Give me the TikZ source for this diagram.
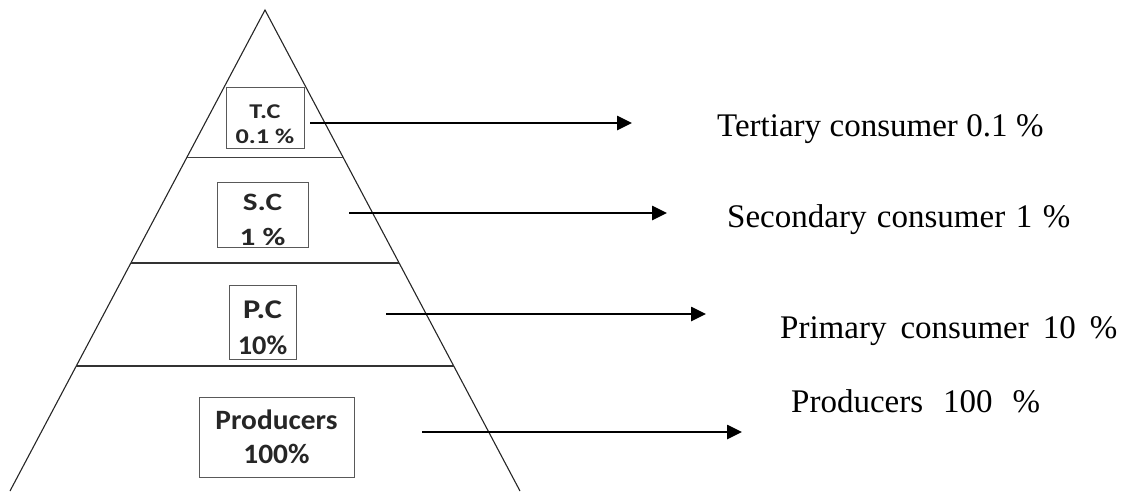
\documentclass[tikz,border=0pt]{standalone}
\usepackage{graphicx}
\usepackage{fontspec}
\setmainfont{Liberation Serif}
\newfontfamily\calibri{Carlito}
\usepackage{tikz}
\usetikzlibrary{calc,arrows.meta}
\tikzset{>={Triangle[length=15pt,width=14pt]}}
\tikzset{
  levelbox/.style={draw=black!65, line width=1pt, fill=white, align=center, inner sep=0pt, text=black!85},
  flow/.style={->, line width=2.6pt},
  levelname/.style={anchor=base west, inner sep=0pt, font=\fontsize{33}{40}\selectfont, execute at begin node={\spaceskip=#1\relax}},
}
% wider box lettering, pushed down a little
\newcommand{\wide}[2]{\scalebox{#1}[1]{#2}}
\newcommand{\drop}[1]{\rule{0pt}{#1}}

\begin{document}
\begin{tikzpicture}[x=1pt,y=-1pt]
\useasboundingbox (0,0) rectangle (1125,491);

% pyramid
\coordinate (top) at (265,10);
\coordinate (left) at (10,491);
\coordinate (right) at (520,491);
\draw[line width=1.1pt, black!85] (left) -- (top) -- (right);

\coordinate (l1) at ($(top)!0.306!(left)$);
\coordinate (r1) at ($(top)!0.306!(right)$);
\coordinate (l2) at ($(top)!0.526!(left)$);
\coordinate (r2) at ($(top)!0.526!(right)$);
\coordinate (l3) at ($(top)!0.74!(left)$);
\coordinate (r3) at ($(top)!0.74!(right)$);
\draw[line width=1.2pt, black!75] (l1) -- (r1);
\draw[line width=1.3pt, black!80] (l2) -- (r2);
\draw[line width=1.3pt, black!80] (l3) -- (r3);

% boxes
\node[levelbox, minimum width=78, minimum height=61, font=\calibri\bfseries\fontsize{21}{25}\selectfont] (tc) at (265,117.5)
  {\drop{27pt}\wide{1.25}{T.C}\\\wide{1.25}{0.1 \%}};
\node[levelbox, minimum width=91, minimum height=65, font=\calibri\bfseries\fontsize{25}{35}\selectfont] (sc) at (262.5,214.5)
  {\drop{27pt}\wide{1.25}{S.C}\\\wide{1.25}{1 \%}};
\node[levelbox, minimum width=67, minimum height=74, font=\calibri\bfseries\fontsize{27}{36}\selectfont] (pc) at (262.5,322)
  {\drop{30pt}\wide{1.2}{P.C}\\\wide{1.05}{10\%}};
\node[levelbox, minimum width=155, minimum height=80, font=\calibri\bfseries\fontsize{28}{34}\selectfont] (prodbox) at (276.5,437)
  {\wide{1.05}{Producers}\\\wide{1.05}{100\%}};

% arrows
\coordinate (tc-out) at (310,123);
\coordinate (tc-in) at (632,123);
\coordinate (sc-out) at (349,213);
\coordinate (sc-in) at (667,213);
\coordinate (pc-out) at (386,314);
\coordinate (pc-in) at (706,314);
\coordinate (prod-out) at (422,432);
\coordinate (prod-in) at (742,432);
\draw[flow] (tc-out) -- (tc-in);
\draw[flow] (sc-out) -- (sc-in);
\draw[flow] (pc-out) -- (pc-in);
\draw[flow] (prod-out) -- (prod-in);

% names
\node[levelname=8.5pt] (tert) at (717,136) {Tertiary consumer 0.1 \%};
\node[levelname=10.5pt] (sec) at (727,227) {Secondary consumer 1 \%};
\node[levelname=14pt] (prim) at (780,338) {Primary consumer 10 \%};
\node[levelname=20pt] (prod) at (791,412) {Producers 100 \%};
\end{tikzpicture}
\end{document}
